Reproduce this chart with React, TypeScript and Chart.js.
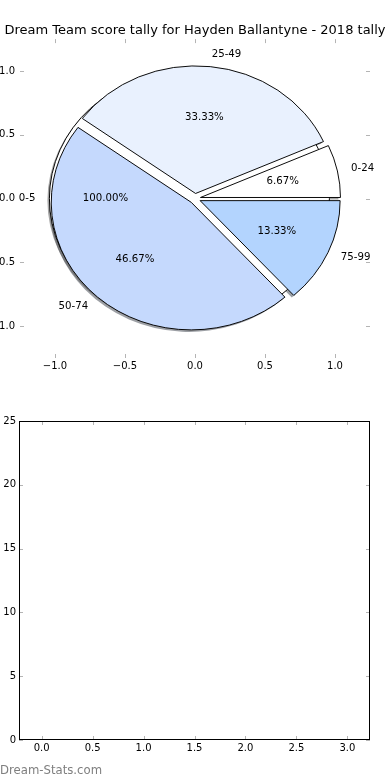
import React, { useEffect, useRef } from 'react';
import { Chart, registerables } from 'chart.js';

Chart.register(...registerables);

const FONT = 'DejaVu Sans';

const chartTitle = 'Dream Team score tally for Hayden Ballantyne - 2018 tally';
const watermark = 'Dream-Stats.com';

// first pie: a single wedge covering the whole circle
const baseLabels = ['0-5'];
const baseCounts = [1];
const baseColors = ['#ffffff'];

// second pie: score buckets (matplotlib order, counter-clockwise from east)
const tallyLabels = ['0-24', '25-49', '50-74', '75-99'];
const tallyCounts = [1, 5, 7, 2];
const tallyColors = ['#ffffff', '#e9f1fe', '#c5d9fd', '#b3d4fe'];

const explodeBy = 0.04;
const labelDistance = 1.1;
const pctDistance = 0.6;

const pieAxisRange = [-1.25, 1.25];
const pieTicks = [-1, -0.5, 0, 0.5, 1];

const barXRange = [-0.222, 3.222];
const barXTicks = [0, 0.5, 1, 1.5, 2, 2.5, 3];
const barYRange = [0, 25];
const barYTicks = [0, 5, 10, 15, 20, 25];
const barXValues: number[] = [];
const barYValues: number[] = [];

const fmt1 = (v: any) => {
  const n = Number(v);
  const t = Math.abs(n).toFixed(1);
  return n < -1e-9 ? '\u2212' + t : t;
};

const fixedTicks = (values: number[]) => (s: any) => {
  s.ticks = values.map((value) => ({ value }));
};

const tickMarks = (frame: boolean) => ({
  id: 'tickMarks',
  afterDraw(chart: any) {
    const { ctx, chartArea: a } = chart;
    const xs = chart.scales.x;
    const ys = chart.scales.y;
    ctx.save();
    ctx.strokeStyle = '#b4b4b4';
    ctx.lineWidth = 1;
    ctx.beginPath();
    for (const t of xs.ticks) {
      const px = Math.round(xs.getPixelForValue(t.value)) + 0.5;
      ctx.moveTo(px, a.top);
      ctx.lineTo(px, a.top + 4);
      ctx.moveTo(px, a.bottom);
      ctx.lineTo(px, a.bottom - 4);
    }
    for (const t of ys.ticks) {
      const py = Math.round(ys.getPixelForValue(t.value)) + 0.5;
      ctx.moveTo(a.left, py);
      ctx.lineTo(a.left + 4, py);
      ctx.moveTo(a.right, py);
      ctx.lineTo(a.right - 4, py);
    }
    ctx.stroke();
    if (frame) {
      ctx.strokeStyle = '#000';
      ctx.lineWidth = 1;
      const l = Math.round(a.left) + 0.5;
      const t = Math.round(a.top) + 0.5;
      const r = Math.round(a.right) - 0.5;
      const b = Math.round(a.bottom) - 0.5;
      ctx.strokeRect(l, t, r - l, b - t);
    }
    ctx.restore();
  },
});

const shadowOf = (hex: string) => {
  const h = hex.replace('#', '');
  const r = parseInt(h.slice(0, 2), 16) * 0.3;
  const g = parseInt(h.slice(2, 4), 16) * 0.3;
  const b = parseInt(h.slice(4, 6), 16) * 0.3;
  return `rgba(${r.toFixed(0)},${g.toFixed(0)},${b.toFixed(0)},0.5)`;
};

const piePlugin = (R: number, sy: number) => {
  const center = (chart: any) => {
    const a = chart.chartArea;
    return { cx: (a.left + a.right) / 2, cy: (a.top + a.bottom) / 2 };
  };
  const ellipse = (ctx: CanvasRenderingContext2D, cx: number, cy: number) => {
    ctx.translate(cx, cy);
    ctx.scale(1, sy);
    ctx.translate(-cx, -cy);
  };
  return {
    id: 'mplPie',
    afterDatasetUpdate(chart: any, args: any) {
      for (const el of args.meta.data) {
        const mid = (el.startAngle + el.endAngle) / 2;
        el.outerRadius = R;
        el.innerRadius = 0;
        el.x += Math.cos(mid) * explodeBy * R;
        el.y += Math.sin(mid) * explodeBy * R;
      }
    },
    beforeDatasetsDraw(chart: any) {
      const ctx = chart.ctx as CanvasRenderingContext2D;
      const { cx, cy } = center(chart);
      ctx.save();
      ctx.translate(-2, 2);
      ellipse(ctx, cx, cy);
      chart.data.datasets.forEach((ds: any, di: number) => {
        const meta = chart.getDatasetMeta(di);
        meta.data.forEach((el: any, i: number) => {
          ctx.fillStyle = shadowOf(ds.backgroundColor[i]);
          ctx.beginPath();
          ctx.moveTo(el.x, el.y);
          ctx.arc(el.x, el.y, el.outerRadius, el.startAngle, el.endAngle);
          ctx.closePath();
          ctx.fill();
        });
      });
      ctx.restore();
      ctx.save();
      ellipse(ctx, cx, cy);
    },
    afterDatasetDraw(chart: any, args: any) {
      const ds = chart.data.datasets[args.index];
      if (!ds.outline) return;
      const ctx = chart.ctx as CanvasRenderingContext2D;
      for (const el of args.meta.data) {
        ctx.save();
        ctx.strokeStyle = '#000';
        ctx.lineWidth = 1;
        ctx.beginPath();
        ctx.arc(el.x, el.y, el.outerRadius, 0, Math.PI * 2);
        ctx.stroke();
        ctx.restore();
      }
    },
    afterDatasetsDraw(chart: any) {
      const ctx = chart.ctx as CanvasRenderingContext2D;
      ctx.restore();
      const { cx, cy } = center(chart);
      ctx.save();
      ctx.fillStyle = '#000';
      ctx.font = `10.2px "${FONT}"`;
      ctx.textBaseline = 'middle';
      chart.data.datasets.forEach((ds: any, di: number) => {
        const meta = chart.getDatasetMeta(di);
        const total = ds.data.reduce((s: number, v: number) => s + v, 0);
        meta.data.forEach((el: any, i: number) => {
          const mid = (el.startAngle + el.endAngle) / 2;
          const c = Math.cos(mid);
          const s = Math.sin(mid);
          const lx = el.x + c * labelDistance * R;
          const ly = el.y + s * labelDistance * R;
          ctx.textAlign = lx - cx > 0 ? 'left' : 'right';
          ctx.fillText(ds.names[i], lx, cy + (ly - cy) * sy);
          const px = el.x + c * pctDistance * R;
          const py = el.y + s * pctDistance * R;
          ctx.textAlign = 'center';
          ctx.fillText(((ds.data[i] / total) * 100).toFixed(2) + '%', px, cy + (py - cy) * sy);
        });
      });
      ctx.restore();
    },
  };
};

const W = 390;
const TOP_H = 382;
const BAR_TOP = 396;
const BAR_H = 372;

export default function App() {
  const axRef = useRef<HTMLCanvasElement>(null);
  const pieRef = useRef<HTMLCanvasElement>(null);
  const barRef = useRef<HTMLCanvasElement>(null);

  useEffect(() => {
    Chart.defaults.font.family = FONT;
    Chart.defaults.color = '#000';
    const charts: Chart[] = [];

    const axisTicks = {
      callback: fmt1,
      font: { size: 10 },
      color: '#000',
      maxRotation: 0,
      autoSkip: false,
    };

    const axes = new Chart(axRef.current!, {
      type: 'scatter',
      data: { datasets: [] },
      options: {
        responsive: false,
        animation: false,
        events: [],
        plugins: {
          legend: { display: false },
          tooltip: { enabled: false },
          title: {
            display: true,
            text: chartTitle,
            color: '#000',
            font: { size: 13, weight: 'normal' },
            padding: { top: 22.5, bottom: 1 },
          },
        },
        scales: {
          x: {
            type: 'linear',
            min: pieAxisRange[0],
            max: pieAxisRange[1],
            afterBuildTicks: fixedTicks(pieTicks),
            ticks: { ...axisTicks, padding: 2 },
            grid: { display: false, drawTicks: false },
            border: { display: false },
            afterFit: (s: any) => { s.height = 24; },
          },
          y: {
            type: 'linear',
            min: pieAxisRange[0],
            max: pieAxisRange[1],
            afterBuildTicks: fixedTicks(pieTicks),
            ticks: { ...axisTicks, padding: 5 },
            grid: { display: false, drawTicks: false },
            border: { display: false },
            afterFit: (s: any) => { s.width = 20; },
          },
          yRight: {
            type: 'linear',
            position: 'right',
            min: pieAxisRange[0],
            max: pieAxisRange[1],
            ticks: { display: false },
            grid: { display: false, drawTicks: false },
            border: { display: false },
            afterFit: (s: any) => { s.width = 20; },
          },
        },
      } as any,
      plugins: [tickMarks(false)],
    });
    charts.push(axes);

    const xs: any = axes.scales.x;
    const ys: any = axes.scales.y;
    const x0 = xs.getPixelForValue(0);
    const y0 = ys.getPixelForValue(0);
    const R = xs.getPixelForValue(1) - x0;
    const sy = (y0 - ys.getPixelForValue(1)) / R;
    const padX = 2 * x0 - W;
    const padY = 2 * y0 - TOP_H;

    const rev = <T,>(a: T[]) => [...a].reverse();

    const pie = new Chart(pieRef.current!, {
      type: 'pie',
      data: {
        labels: rev(tallyLabels),
        datasets: [
          {
            label: 'tally',
            data: rev(tallyCounts),
            backgroundColor: rev(tallyColors),
            borderColor: '#000',
            borderWidth: 1,
            names: rev(tallyLabels),
          },
          {
            label: 'base',
            data: baseCounts,
            backgroundColor: baseColors,
            borderWidth: 0,
            names: baseLabels,
            outline: true,
          },
        ],
      } as any,
      options: {
        responsive: false,
        animation: false,
        events: [],
        rotation: 90,
        layout: {
          padding: {
            left: padX > 0 ? padX : 0,
            right: padX < 0 ? -padX : 0,
            top: padY > 0 ? padY : 0,
            bottom: padY < 0 ? -padY : 0,
          },
        },
        plugins: {
          legend: { display: false },
          tooltip: { enabled: false },
          title: { display: false },
        },
      } as any,
      plugins: [piePlugin(R, sy)],
    });
    charts.push(pie);

    const bar = new Chart(barRef.current!, {
      type: 'bar',
      data: {
        datasets: [
          {
            label: 'tally',
            data: barXValues.map((x, i) => ({ x, y: barYValues[i] })),
            backgroundColor: '#c5d9fd',
          },
        ],
      },
      options: {
        responsive: false,
        animation: false,
        events: [],
        layout: { padding: { top: 25, right: 20 } },
        plugins: { legend: { display: false }, tooltip: { enabled: false } },
        scales: {
          x: {
            type: 'linear',
            offset: false,
            min: barXRange[0],
            max: barXRange[1],
            afterBuildTicks: fixedTicks(barXTicks),
            ticks: {
              callback: fmt1,
              font: { size: 10 },
              color: '#000',
              padding: 2,
              maxRotation: 0,
              autoSkip: false,
            },
            grid: { display: false, drawTicks: false },
            border: { display: false },
            afterFit: (s: any) => { s.height = 28; },
          },
          y: {
            type: 'linear',
            min: barYRange[0],
            max: barYRange[1],
            afterBuildTicks: fixedTicks(barYTicks),
            ticks: {
              callback: (v: any) => String(Math.round(Number(v))),
              font: { size: 10 },
              color: '#000',
              padding: 3,
            },
            grid: { display: false, drawTicks: false },
            border: { display: false },
            afterFit: (s: any) => { s.width = 19; },
          },
        },
      } as any,
      plugins: [tickMarks(true)],
    });
    charts.push(bar);

    return () => charts.forEach((c) => c.destroy());
  }, []);

  return (
    <div style={{ position: 'absolute', left: 0, top: 0, width: W, height: 780, background: '#fff', overflow: 'hidden' }}>
      <canvas ref={axRef} width={W} height={TOP_H} style={{ position: 'absolute', left: 0, top: 0, width: W, height: TOP_H }} />
      <canvas ref={pieRef} width={W} height={TOP_H} style={{ position: 'absolute', left: 0, top: 0, width: W, height: TOP_H }} />
      <canvas ref={barRef} width={W} height={BAR_H} style={{ position: 'absolute', left: 0, top: BAR_TOP, width: W, height: BAR_H }} />
      <div
        style={{
          position: 'absolute',
          left: 0,
          top: 763,
          fontFamily: FONT,
          fontSize: '11.7px',
          lineHeight: '14px',
          color: '#7f7f7f',
          whiteSpace: 'nowrap',
        }}
      >
        {watermark}
      </div>
    </div>
  );
}
